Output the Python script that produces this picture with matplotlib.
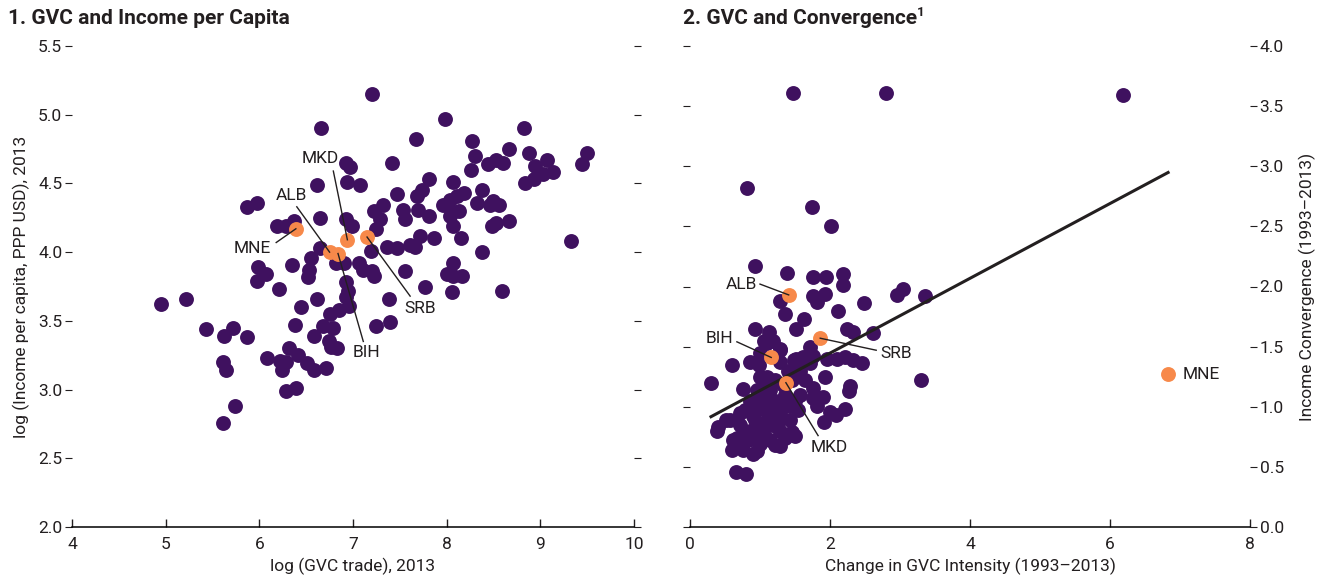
import matplotlib
matplotlib.use("Agg")
import matplotlib.pyplot as plt
from matplotlib import font_manager

# ---- data: panel 1 (log GVC trade vs log income per capita) ----
gvc_trade = [
    4.95, 5.22, 5.43, 5.62, 5.72, 5.87, 5.61, 5.64, 5.74, 5.61,
    6.08, 6.32, 6.41, 6.22, 6.29, 6.24, 6.51, 6.58, 6.71, 6.29,
    6.39, 5.87, 5.98, 6.19, 6.29, 6.37, 6.65, 6.65, 6.55, 6.35,
    6.82, 5.99, 6.07, 5.98, 6.53, 6.52, 6.21, 6.62, 6.44, 6.75,
    6.85, 6.38, 6.68, 6.79, 6.58, 6.74, 6.77, 6.83, 6.93, 6.97,
    7.42, 7.67, 6.62, 6.94, 7.08, 7.81, 7.47, 7.68, 7.74, 8.07,
    6.93, 6.99, 7.22, 7.32, 7.29, 7.53, 7.56, 7.81, 7.96, 8.04,
    8.07, 7.25, 7.36, 7.47, 7.61, 7.72, 7.86, 7.19, 7.06, 6.90,
    6.93, 6.95, 6.93, 6.96, 7.20, 7.22, 7.56, 7.77, 7.38, 7.25,
    7.39, 8.07, 8.07, 7.20, 7.98, 6.66, 8.27, 8.30, 8.26, 8.44,
    8.53, 8.38, 7.69, 8.11, 8.18, 8.32, 8.49, 8.56, 8.06, 8.13,
    8.48, 8.53, 8.15, 7.66, 8.38, 7.11, 8.00, 8.16, 8.83, 8.60,
    8.67, 8.88, 8.94, 9.07, 9.14, 9.03, 8.93, 8.84, 9.50, 9.44,
    8.46, 8.67, 8.04, 9.33, 8.06, 8.59,
]
income = [
    3.62, 3.66, 3.44, 3.39, 3.45, 3.38, 3.20, 3.14, 2.88, 2.76,
    3.23, 3.30, 3.25, 3.21, 3.20, 3.14, 3.19, 3.14, 3.16, 2.99,
    3.01, 4.33, 4.36, 4.19, 4.19, 4.23, 4.25, 4.03, 3.96, 3.91,
    3.92, 3.89, 3.84, 3.79, 3.87, 3.82, 3.73, 3.66, 3.60, 3.55,
    3.58, 3.47, 3.46, 3.45, 3.39, 3.35, 3.31, 3.30, 4.65, 4.62,
    4.65, 4.82, 4.49, 4.51, 4.49, 4.53, 4.42, 4.41, 4.45, 4.51,
    4.24, 4.19, 4.30, 4.34, 4.24, 4.31, 4.24, 4.26, 4.34, 4.26,
    4.19, 4.17, 4.04, 4.03, 4.05, 4.12, 4.10, 4.01, 3.92, 3.92,
    3.78, 3.72, 3.67, 3.61, 3.86, 3.83, 3.86, 3.75, 3.66, 3.46,
    3.49, 3.92, 3.83, 5.15, 4.97, 4.90, 4.81, 4.70, 4.60, 4.64,
    4.67, 4.45, 4.31, 4.41, 4.43, 4.36, 4.37, 4.34, 4.29, 4.30,
    4.19, 4.21, 4.10, 4.04, 4.00, 3.87, 3.84, 3.83, 4.90, 4.65,
    4.75, 4.72, 4.63, 4.67, 4.58, 4.57, 4.53, 4.50, 4.72, 4.64,
    4.34, 4.23, 4.38, 4.08, 3.71, 3.72,
]
hl_names_1 = ["MNE", "ALB", "BIH", "MKD", "SRB"]
hl_trade = [6.39, 6.75, 6.84, 6.94, 7.15]
hl_income = [4.17, 4.00, 3.99, 4.09, 4.11]
# label position (text anchor) and leader-line start for each highlighted country
lab1_xy = {"MNE": (6.12, 4.03), "ALB": (6.34, 4.41), "BIH": (7.14, 3.27),
           "MKD": (6.65, 4.68), "SRB": (7.72, 3.59)}
line1_xy = {"MNE": (6.18, 4.07), "ALB": (6.40, 4.33), "BIH": (7.11, 3.35),
            "MKD": (6.79, 4.59), "SRB": (7.61, 3.68)}

# ---- data: panel 2 (change in GVC intensity vs income convergence) ----
gvc_change = [
    1.47, 2.80, 6.19, 0.81, 1.74, 2.01,
    0.93, 1.39, 1.75, 1.94, 2.18, 2.19, 1.75, 1.93, 1.81, 1.28,
    1.36, 1.63, 2.12, 2.49, 2.95, 3.04, 3.35, 1.51, 0.93, 1.13,
    1.06, 1.19, 1.28, 1.72, 1.76, 2.24, 2.33, 2.62, 2.10, 2.21,
    2.33, 2.45, 1.95, 0.60, 0.30, 0.76, 1.00, 0.98, 1.48, 1.62,
    1.93, 3.30, 2.28, 1.75, 1.90, 1.75, 1.81, 2.22, 2.08, 1.91,
    1.50, 1.29, 1.00, 0.67, 0.39, 0.57, 0.90, 1.14, 1.29, 1.10,
    0.95, 0.86, 1.05, 1.24, 0.76, 0.90, 0.66, 0.80,
    1.29, 1.51, 1.62, 1.71, 2.27, 1.10, 2.00, 0.95, 0.62, 0.40,
    0.52, 1.10,
    1.00, 1.14, 1.21, 1.07, 0.93, 1.14, 1.29, 1.43, 1.36, 1.21,
    1.07, 0.86, 0.79, 1.00, 1.29, 1.43, 1.54, 1.57, 1.46, 0.83,
    1.14, 1.36, 0.71, 0.96, 1.64, 1.57, 1.40, 1.29, 1.00, 0.86,
    1.03, 1.17, 1.31, 1.11, 1.26, 0.89, 0.79, 1.07, 1.21, 1.46,
    0.96, 1.33, 1.50, 0.71, 0.60,
]
convergence = [
    3.61, 3.61, 3.59, 2.82, 2.66, 2.50,
    2.17, 2.11, 2.08, 2.08, 2.10, 2.01, 1.92, 1.94, 1.87, 1.88,
    1.77, 1.73, 1.80, 1.86, 1.93, 1.98, 1.92, 1.65, 1.65, 1.62,
    1.55, 1.55, 1.48, 1.50, 1.42, 1.65, 1.62, 1.61, 1.40, 1.41,
    1.39, 1.36, 1.40, 1.35, 1.20, 1.15, 1.25, 1.35, 1.39, 1.41,
    1.25, 1.22, 1.17, 1.16, 1.08, 1.07, 1.01, 0.98, 0.93, 0.87,
    0.76, 0.67, 0.69, 0.74, 0.80, 0.89, 0.92, 0.97, 1.05, 1.11,
    1.03, 0.80, 0.86, 0.83, 0.64, 0.61, 0.46, 0.44,
    1.47, 1.40, 1.36, 1.36, 1.13, 1.25, 0.96, 0.63, 0.72, 0.83,
    0.89, 1.53,
    1.10, 1.14, 1.05, 0.97, 0.89, 0.85, 0.93, 1.01, 1.10, 1.22,
    1.18, 1.05, 0.97, 0.80, 0.80, 0.89, 0.97, 1.10, 1.22, 0.72,
    0.72, 0.74, 0.85, 0.72, 1.22, 1.30, 1.30, 1.37, 1.45, 1.37,
    1.05, 1.01, 0.99, 0.90, 0.87, 0.95, 0.79, 0.75, 0.68, 0.79,
    1.14, 1.18, 1.05, 0.95, 0.64,
]
hl_names_2 = ["ALB", "BIH", "SRB", "MKD", "MNE"]
hl_change = [1.41, 1.16, 1.86, 1.37, 6.83]
hl_conv = [1.93, 1.41, 1.57, 1.20, 1.27]
lab2_xy = {"ALB": (0.96, 2.02), "BIH": (0.62, 1.57), "SRB": (2.72, 1.44),
           "MKD": (1.99, 0.66), "MNE": (7.04, 1.27)}
line2_xy = {"ALB": (1.00, 2.02), "BIH": (0.67, 1.54), "SRB": (2.66, 1.47),
            "MKD": (1.83, 0.76)}
fit_slope = 0.311
fit_intercept = 0.824

PURPLE = "#3f115f"
ORANGE = "#f7894a"
TXT = "#231f20"

avail = {f.name for f in font_manager.fontManager.ttflist}
fam = "Liberation Sans Narrow" if "Liberation Sans Narrow" in avail else "Roboto"
plt.rcParams["font.family"] = [fam, "DejaVu Sans"]
plt.rcParams["text.color"] = TXT
plt.rcParams["axes.labelcolor"] = TXT
plt.rcParams["xtick.color"] = TXT
plt.rcParams["ytick.color"] = TXT

fig = plt.figure(figsize=(13.3, 5.86), dpi=100)
ax1 = fig.add_axes([72 / 1330, 1 - 527 / 586, 562 / 1330, 481 / 586])
ax2 = fig.add_axes([690 / 1330, 1 - 527 / 586, 560 / 1330, 481 / 586])

MS = 115
FS = 12.5


def style(ax):
    for s in ("top", "left", "right"):
        ax.spines[s].set_visible(False)
    ax.spines["bottom"].set_linewidth(1.1)
    ax.tick_params(axis="x", direction="in", length=6, width=1, labelsize=FS, pad=7)
    ax.tick_params(axis="y", direction="out", length=5, width=0.8, labelsize=FS,
                   pad=2, left=True, right=True)


# panel 1
ax1.scatter(gvc_trade, income, s=MS, color=PURPLE, linewidths=0, zorder=2)
ax1.scatter(hl_trade, hl_income, s=MS, color=ORANGE, linewidths=0, zorder=3)
for name, px, py in zip(hl_names_1, hl_trade, hl_income):
    lx, ly = line1_xy[name]
    ax1.plot([lx, px], [ly, py], color=TXT, lw=1, zorder=4)
    tx, ty = lab1_xy[name]
    ha = "right" if name == "MNE" else "center"
    ax1.text(tx, ty, name, fontsize=FS, ha=ha, va="center")
ax1.set_xlim(4, 10)
ax1.set_ylim(2.0, 5.5)
ax1.set_xticks(range(4, 11))
ax1.set_yticks([2.0, 2.5, 3.0, 3.5, 4.0, 4.5, 5.0, 5.5])
ax1.set_yticklabels([f"{v:.1f}" for v in ax1.get_yticks()])
style(ax1)
ax1.tick_params(axis="y", labelleft=True, labelright=False)
ax1.set_xlabel("log (GVC trade), 2013", fontsize=FS, labelpad=4)
ax1.set_ylabel("log (Income per capita, PPP USD), 2013", fontsize=FS, labelpad=6)

# panel 2
xs = [min(gvc_change), max(hl_change)]
ax2.plot(xs, [fit_intercept + fit_slope * v for v in xs], color=TXT, lw=2.2, zorder=4)
ax2.scatter(gvc_change, convergence, s=MS, color=PURPLE, linewidths=0, zorder=2)
ax2.scatter(hl_change, hl_conv, s=MS, color=ORANGE, linewidths=0, zorder=5)
for name, px, py in zip(hl_names_2, hl_change, hl_conv):
    if name in line2_xy:
        lx, ly = line2_xy[name]
        ax2.plot([lx, px], [ly, py], color=TXT, lw=1, zorder=6)
    tx, ty = lab2_xy[name]
    ha = {"ALB": "right", "BIH": "right", "SRB": "left", "MNE": "left"}.get(name, "center")
    ax2.text(tx, ty, name, fontsize=FS, ha=ha, va="center")
ax2.set_xlim(0, 8)
ax2.set_ylim(0, 4.0)
ax2.set_xticks(range(0, 9, 2))
ax2.set_yticks([0.0, 0.5, 1.0, 1.5, 2.0, 2.5, 3.0, 3.5, 4.0])
ax2.set_yticklabels([f"{v:.1f}" for v in ax2.get_yticks()])
style(ax2)
ax2.tick_params(axis="y", labelleft=False, labelright=True)
ax2.yaxis.set_label_position("right")
ax2.set_xlabel("Change in GVC Intensity (1993\u20132013)", fontsize=FS, labelpad=4)
ax2.set_ylabel("Income Convergence (1993\u20132013)", fontsize=FS, labelpad=11)

# titles
fig.text(8 / 1330, 1 - 19 / 586, "1. GVC and Income per Capita", fontsize=15,
         fontweight="bold", va="center", ha="left")
t2 = fig.text(683 / 1330, 1 - 19 / 586, "2. GVC and Convergence", fontsize=15,
              fontweight="bold", va="center", ha="left")
fig.canvas.draw()
bb = t2.get_window_extent()
fig.text(bb.x1 / fig.bbox.width, 1 - 13 / 586, "1", fontsize=9.5,
         fontweight="bold", va="center", ha="left")

fig.savefig("out.png", dpi=100)
